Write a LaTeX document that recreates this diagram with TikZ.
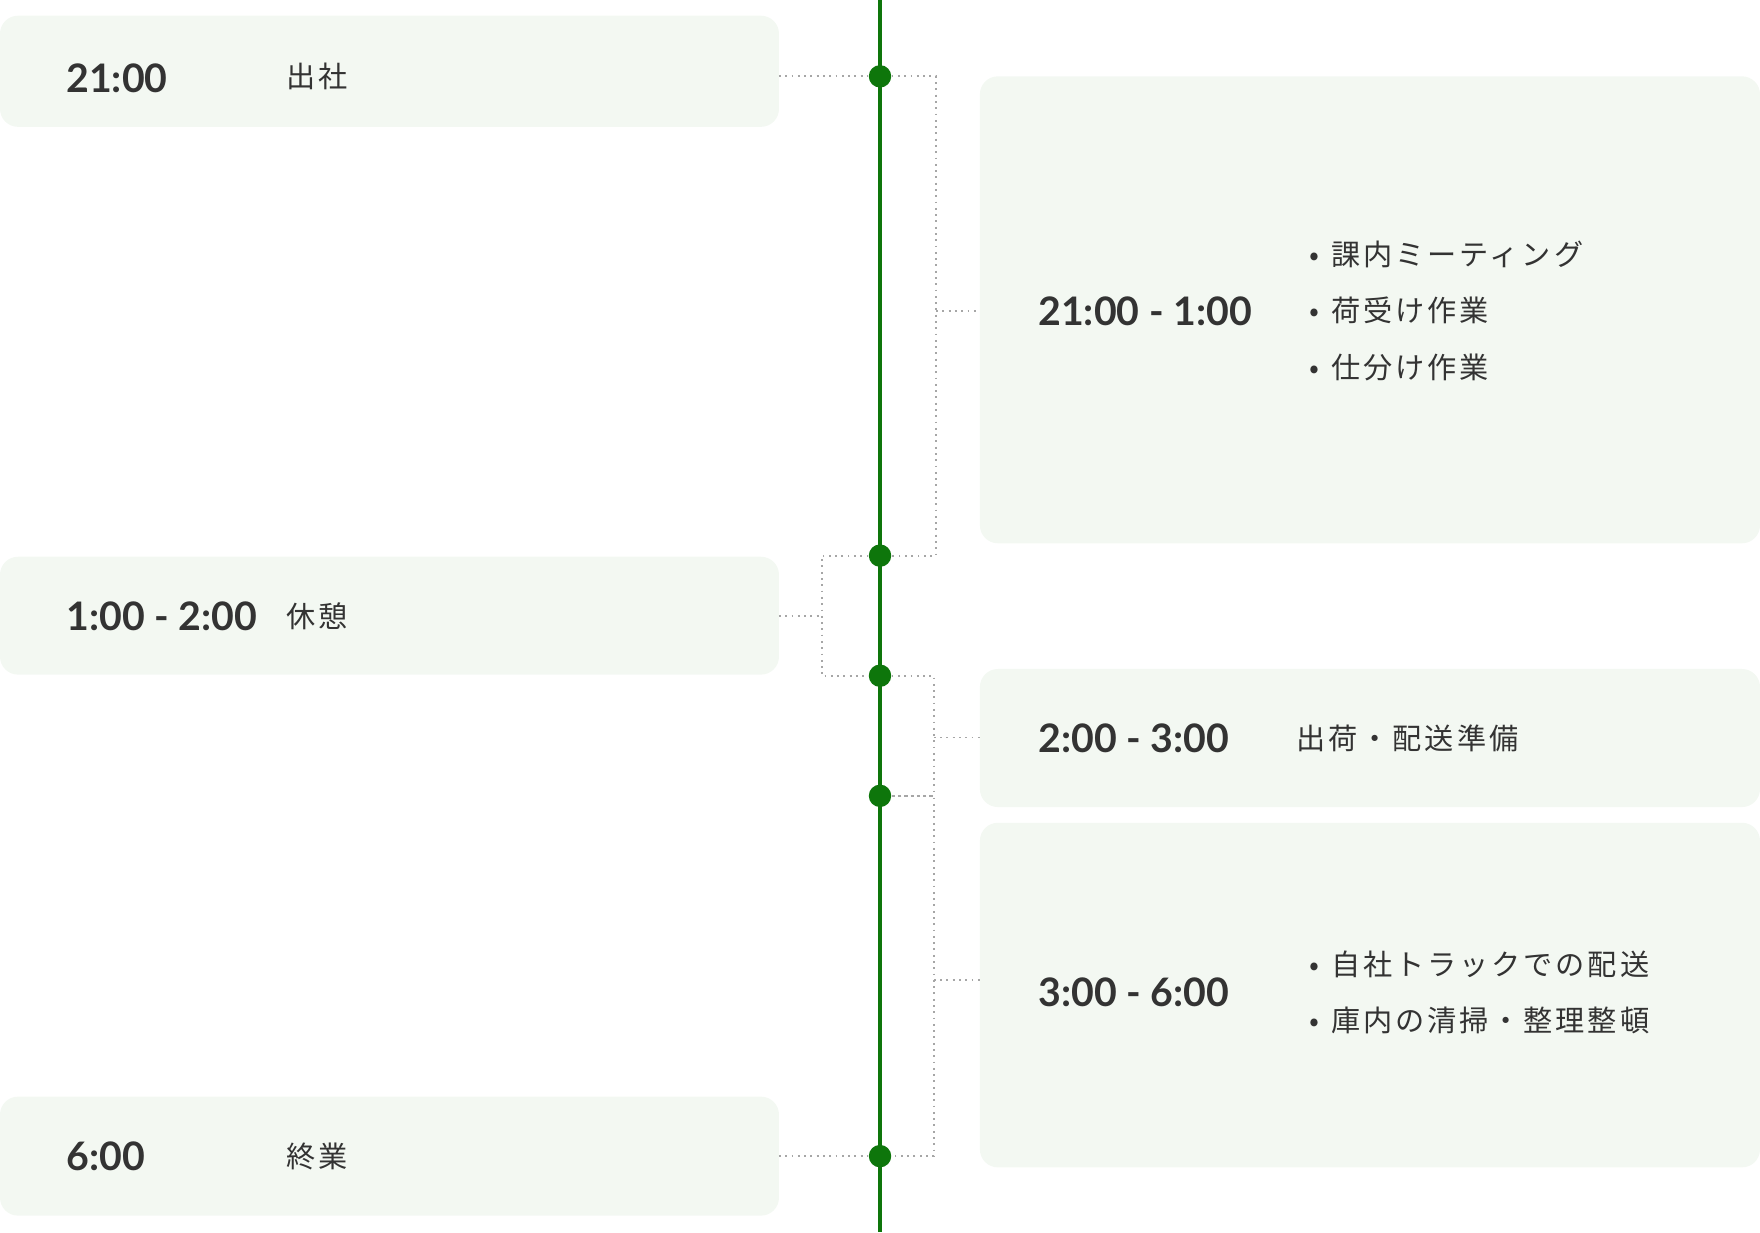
\documentclass[tikz,border=0pt]{standalone}
\usepackage{fontspec}
\setmainfont{Lato}
\newfontfamily\jp{Noto Sans CJK JP}[LetterSpace=10]
\definecolor{bx}{HTML}{F3F8F2}
\definecolor{ln}{HTML}{0E760B}
\definecolor{tx}{HTML}{333333}
\begin{document}
\begin{tikzpicture}[x=0.5pt,y=-0.5pt,
 box/.style={fill=bx,draw=none,rounded corners=8pt},
 tm/.style={anchor=west,text=tx,font=\fontsize{17.5}{20}\selectfont\bfseries},
 lb/.style={anchor=west,text=tx,font=\jp\fontsize{13}{25}\selectfont,align=left},
 dt/.style={circle,fill=ln,inner sep=0,minimum size=10pt},
 con/.style={draw=gray!70,dotted,line width=0.8pt}]
\useasboundingbox (0,0) rectangle (1568,1098);
\fill[box] (0,14) rectangle (694,113);
\fill[box] (0,496) rectangle (694,601);
\fill[box] (0,977) rectangle (694,1083);
\fill[box] (873,68) rectangle (1568,484);
\fill[box] (873,596) rectangle (1568,719);
\fill[box] (873,733) rectangle (1568,1040);
\draw[ln,line width=1.5pt] (784,0) -- (784,1098);
\node[dt] (d1) at (784,68) {};
\node[dt] (d2) at (784,495) {};
\node[dt] (d3) at (784,602) {};
\node[dt] (d4) at (784,709) {};
\node[dt] (d5) at (784,1030) {};
\coordinate (l1) at (694,68); \coordinate (l2) at (694,549); \coordinate (l3) at (694,1030);
\coordinate (rA) at (873,277); \coordinate (rB) at (873,657); \coordinate (rC) at (873,873);
\draw[con] (l1) -- (d1);
\draw[con] (d1) -- (834,68) -- (834,495) -- (d2);
\draw[con] (834,277) -- (rA);
\draw[con] (l2) -- (732,549);
\draw[con] (d2) -- (732,495) -- (732,602) -- (d3);
\draw[con] (d3) -- (832,602) -- (832,709) -- (d4);
\draw[con] (832,657) -- (rB);
\draw[con] (d4) -- (832,709) -- (832,1030) -- (d5);
\draw[con] (832,873) -- (rC);
\draw[con] (l3) -- (d5);
\node[tm] (t1) at (52,70) {21:00};
\node[lb] (j1) at (248,68) {出社};
\node[tm] (t2) at (52,549) {1:00 - 2:00};
\node[lb] (j2) at (248,549) {休憩};
\node[tm] (t3) at (52,1030) {6:00};
\node[lb] (j3) at (248,1030) {終業};
\node[tm] (tA) at (918,277) {21:00 - 1:00};
\node[lb] (jA) at (1160,277) {•\hspace{5pt}課内ミーティング\\•\hspace{5pt}荷受け作業\\•\hspace{5pt}仕分け作業};
\node[tm] (tB) at (918,658) {2:00 - 3:00};
\node[lb] (jB) at (1148,658) {出荷・配送準備};
\node[tm] (tC) at (918,884) {3:00 - 6:00};
\node[lb] (jC) at (1160,884) {•\hspace{5pt}自社トラックでの配送\\•\hspace{5pt}庫内の清掃・整理整頓};
\end{tikzpicture}
\end{document}
